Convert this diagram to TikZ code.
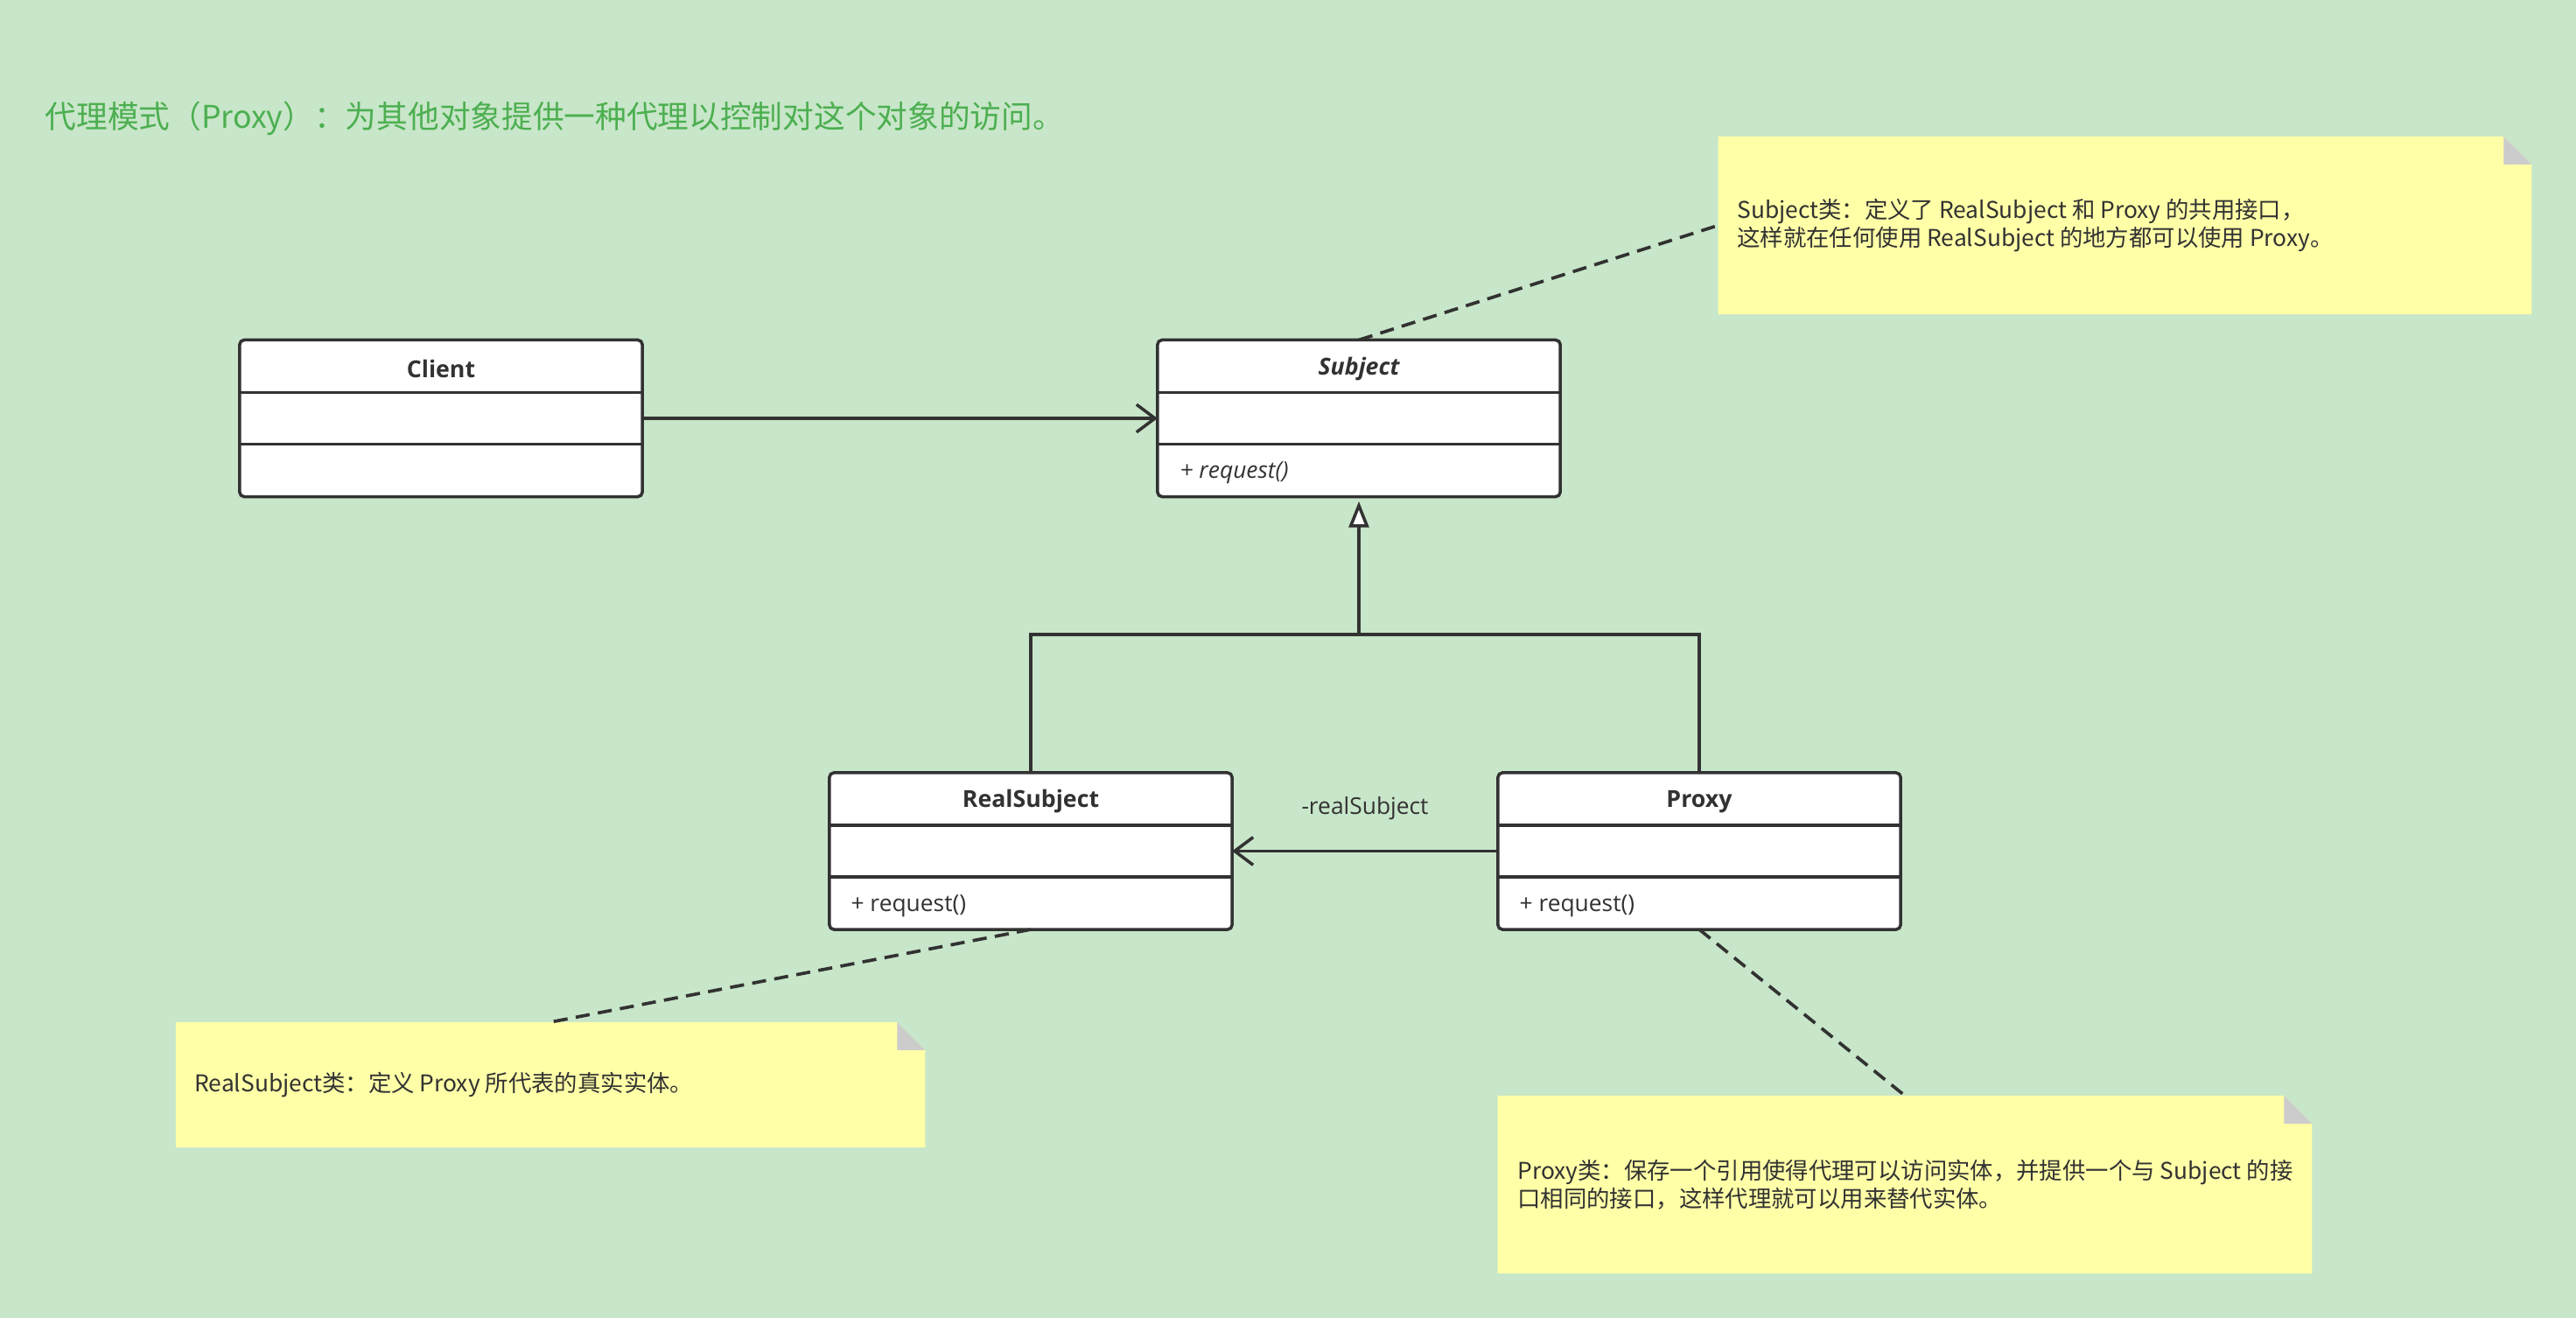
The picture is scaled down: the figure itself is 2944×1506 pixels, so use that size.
\documentclass[tikz,border=0pt]{standalone}
\usepackage{fontspec}
\setmainfont{Noto Sans CJK SC}
\newfontfamily\lat{Open Sans}
\usetikzlibrary{arrows.meta,calc}
\definecolor{bg}{HTML}{C8E6C9}
\definecolor{ink}{HTML}{323232}
\definecolor{titlegreen}{HTML}{4CAF50}
\definecolor{notefill}{HTML}{FFFFA8}
\definecolor{foldgray}{HTML}{CCCCCC}
\tikzset{
  classbox/.style={draw=ink, fill=white, line width=1pt, rounded corners=1.5pt,
    minimum width=4.6cm, minimum height=1.79cm, inner sep=0pt, outer sep=0pt},
  rowline/.style={draw=ink, line width=1pt},
  clsname/.style={font=\lat\fontsize{7.6}{9}\selectfont\bfseries, text=ink, inner sep=0pt},
  clsop/.style={font=\lat\fontsize{7.5}{9}\selectfont, text=ink, inner sep=0pt, anchor=west},
  conn/.style={draw=ink, line width=1pt},
  dashconn/.style={draw=ink, line width=1.05pt, dash pattern=on 4.6pt off 2.7pt},
  notebox/.style={inner sep=0pt, outer sep=0pt},
  notetext/.style={font=\fontsize{7.5}{9.1}\selectfont, text=ink, inner sep=0pt, anchor=west, align=left},
}
\begin{document}
\begin{tikzpicture}[x=0.01cm, y=-0.01cm]
\useasboundingbox[fill=bg] (0,0) rectangle (2944,1506);

% title
\node[anchor=west, text=titlegreen, font=\fontsize{10.15}{12}\selectfont, inner sep=0pt] (title) at (51,135)
  {代理模式（Proxy）：为其他对象提供一种代理以控制对这个对象的访问。};

% classes
\node[classbox] (client) at (504,478) {};
\node[classbox] (subject) at (1553,478) {};
\node[classbox] (realsub) at (1178,972.5) {};
\node[classbox] (proxy) at (1942,972.5) {};

\foreach \c in {client,subject,realsub,proxy} {
  \draw[rowline] ($(\c.north west)+(0,60)$) -- ($(\c.north east)+(0,60)$);
  \draw[rowline] ($(\c.south west)+(0,-60)$) -- ($(\c.south east)+(0,-60)$);
}

\node[clsname] (clientname) at ($(client.north)+(0,33)$) {Client};
\node[clsname] (subjectname) at ($(subject.north)+(0,33)$) {\itshape Subject};
\node[clsname] (realsubname) at ($(realsub.north)+(0,33)$) {RealSubject};
\node[clsname] (proxyname) at ($(proxy.north)+(0,33)$) {Proxy};

\node[clsop] (subjectop) at ($(subject.south west)+(25,-27)$) {\itshape + request()};
\node[clsop] (realsubop) at ($(realsub.south west)+(24,-27)$) {+ request()};
\node[clsop] (proxyop) at ($(proxy.south west)+(24,-27)$) {+ request()};

% notes
\node[notebox, minimum width=9.29cm, minimum height=2.03cm] (n1) at (2428.5,257.5) {};
\node[notebox, minimum width=8.56cm, minimum height=1.43cm] (n2) at (629,1239.5) {};
\node[notebox, minimum width=9.30cm, minimum height=2.03cm] (n3) at (2177,1353.5) {};

\foreach \n in {n1,n2,n3} {
  \fill[notefill] (\n.south west) -- (\n.north west) -- ($(\n.north east)+(-32,0)$)
     -- ($(\n.north east)+(0,32)$) -- (\n.south east) -- cycle;
  \fill[foldgray] ($(\n.north east)+(-32,0)$) -- ($(\n.north east)+(-32,32)$)
     -- ($(\n.north east)+(0,32)$) -- cycle;
}

\node[notetext] (n1text) at ($(n1.west)+(21,0)$)
  {Subject类：定义了 RealSubject 和 Proxy 的共用接口，\\这样就在任何使用 RealSubject 的地方都可以使用 Proxy。};
\node[notetext] (n2text) at ($(n2.west)+(21,0)$)
  {RealSubject类：定义 Proxy 所代表的真实实体。};
\node[notetext] (n3text) at ($(n3.west)+(22,0)$)
  {Proxy类：保存一个引用使得代理可以访问实体，并提供一个与 Subject 的接\\口相同的接口，这样代理就可以用来替代实体。};

% connectors
\draw[conn, -{Straight Barb[length=6pt,width=9pt]}] (client.east) -- (subject.west);

\coordinate (junc) at (1553,725);
\draw[conn] (realsub.north) |- (junc);
\draw[conn] (proxy.north) |- (junc);
\draw[conn, shorten >=1.5pt, -{Triangle[length=8.5pt,width=6.5pt,fill=white]}] (junc) -- (subject.south);

\draw[conn, -{Straight Barb[length=6pt,width=9pt]}] (proxy.west) -- (realsub.east);
\node[font=\lat\fontsize{7.5}{9}\selectfont, text=ink, inner sep=0pt] (assoclabel) at (1560,924) {-realSubject};

\draw[dashconn] (subject.north) -- (n1.west);
\draw[dashconn] (realsub.south) -- (n2.north);
\draw[dashconn] (proxy.south) -- (n3.north);
\end{tikzpicture}
\end{document}
